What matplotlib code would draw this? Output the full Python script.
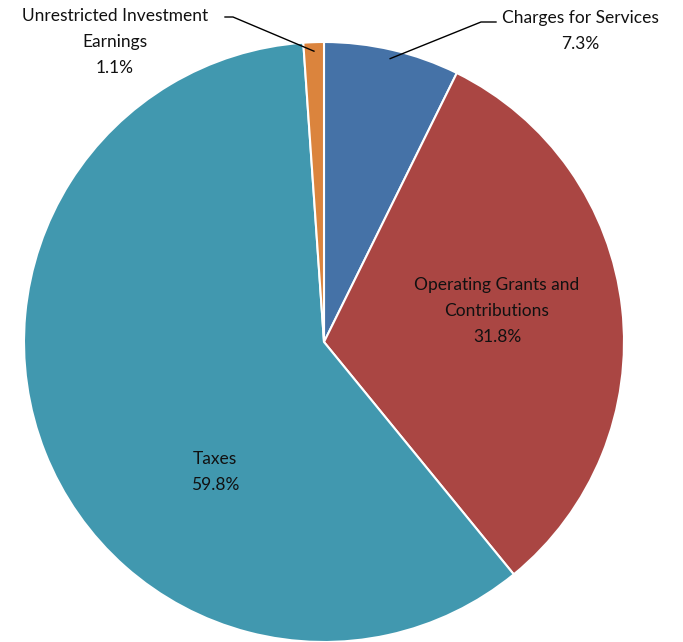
import numpy as np
import matplotlib.pyplot as plt

# data
labels = ['Charges for Services', 'Operating Grants and\nContributions', 'Taxes',
          'Unrestricted Investment\nEarnings']
values = [7.3, 31.8, 59.8, 1.1]
colors = ['#4572A7', '#AA4643', '#4198AF', '#DB843D']

W, H = 683, 642
fig = plt.figure(figsize=(W / 100, H / 100), dpi=100)
# pie centre at (324, 342) px from top, radius 300 px
cx, cy, r = 324, 342, 300
ax = fig.add_axes([(cx - r) / W, (H - cy - r) / H, 2 * r / W, 2 * r / H])

wedges, _ = ax.pie(values, colors=colors, startangle=90, counterclock=False,
                   radius=1, wedgeprops=dict(edgecolor='white', linewidth=1.5))
ax.set_xlim(-1, 1)
ax.set_ylim(-1, 1)
ax.set_aspect('equal')
ax.axis('off')


def px(x, y):
    # pixel (from top-left) -> data coords
    return (x - cx) / r, (cy - y) / r


font = dict(family=['Lato', 'DejaVu Sans'], fontsize=12.5, color='#111111',
            ha='center', va='center', linespacing=1.75)

# labels inside
x, y = px(497, 311)
ax.text(x, y, labels[1] + '\n%.1f%%' % values[1], **font)
x, y = px(215, 472)
ax.text(x, y, labels[2] + '\n%.1f%%' % values[2], **font)

# outside labels with leader lines
def wedge_edge(w, k=0.97):
    a = np.deg2rad((w.theta1 + w.theta2) / 2)
    return k * np.cos(a), k * np.sin(a)

x, y = px(580, 31)
ax.text(x, y, labels[0] + '\n%.1f%%' % values[0], clip_on=False, **font)
sx, sy = wedge_edge(wedges[0])
mx, my = px(481, 22)
ex, ey = px(496, 22)
ax.plot([sx, mx, ex], [sy, my, ey], color='black', lw=1, clip_on=False)

x, y = px(115, 42)
ax.text(x, y, labels[3] + '\n%.1f%%' % values[3], clip_on=False, **font)
sx, sy = wedge_edge(wedges[3])
mx, my = px(233, 17)
ex, ey = px(225, 17)
ax.plot([sx, mx, ex], [sy, my, ey], color='black', lw=1, clip_on=False)

plt.savefig('out.png', dpi=100)
